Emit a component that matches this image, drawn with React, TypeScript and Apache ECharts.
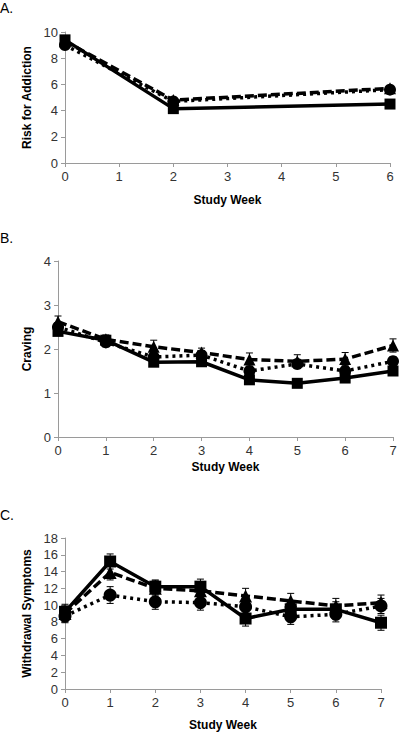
import React, { useEffect, useRef } from "react";
import * as echarts from "echarts";

// Panel A: Risk for Addiction
const weeksA = [0, 2, 6];
const riskSolid = [9.4, 4.15, 4.5];
const riskDashed = [9.3, 4.8, 5.7];
const riskDotted = [9.0, 4.7, 5.6];
const riskErr = [0.15, 0.15, 0.15];

// Panel B: Craving
const weeksB = [0, 1, 2, 3, 4, 5, 6, 7];
const cravingSolid = [2.4, 2.2, 1.7, 1.71, 1.3, 1.22, 1.34, 1.5];
const cravingDashed = [2.62, 2.22, 2.05, 1.92, 1.76, 1.72, 1.77, 2.08];
const cravingDotted = [2.5, 2.15, 1.82, 1.86, 1.5, 1.66, 1.5, 1.72];
const cravingSolidErr = [0.08, 0.08, 0.08, 0.08, 0.08, 0.07, 0.08, 0.1];
const cravingDashedErr = [0.13, 0.1, 0.15, 0.1, 0.15, 0.15, 0.15, 0.15];
const cravingDottedErr = [0.1, 0.1, 0.1, 0.1, 0.1, 0.1, 0.1, 0.1];

// Panel C: Withdrawal Symptoms
const weeksC = [0, 1, 2, 3, 4, 5, 6, 7];
const withdrawalSolid = [9.2, 15.2, 12.2, 12.2, 8.4, 9.5, 9.5, 7.9];
const withdrawalDashed = [9.0, 13.9, 12.0, 11.7, 11.1, 10.5, 9.9, 10.3];
const withdrawalDotted = [8.7, 11.2, 10.4, 10.3, 9.8, 8.6, 8.9, 9.9];
const withdrawalSolidErr = [0.9, 0.9, 0.8, 0.9, 0.9, 0.9, 0.9, 0.9];
const withdrawalDashedErr = [0.9, 0.9, 0.9, 0.9, 0.9, 0.9, 0.9, 0.9];
const withdrawalDottedErr = [0.8, 1.0, 0.9, 0.9, 0.9, 0.9, 0.9, 0.9];

const panelLabels = ["A.", "B.", "C."];
const yTitles = ["Risk for Addiction", "Craving", "Withdrawal Symptoms"];
const xTitle = "Study Week";

const FONT = "Liberation Sans";
const AXIS_COLOR = "#9a9a9a";
const TEXT_COLOR = "#333";

function pairs(xs: number[], ys: number[]) {
  return xs.map((x, i) => [x, ys[i]]);
}
function errData(xs: number[], ys: number[], es: number[]) {
  return xs.map((x, i) => [x, ys[i] - es[i], ys[i] + es[i]]);
}

const errRender = (params: any, api: any) => {
  const x = api.value(0);
  const lo = api.coord([x, api.value(1)]);
  const hi = api.coord([x, api.value(2)]);
  const cap = 3.5;
  const style = { stroke: "#000", lineWidth: 1 };
  return {
    type: "group",
    children: [
      { type: "line", shape: { x1: lo[0], y1: lo[1], x2: hi[0], y2: hi[1] }, style },
      { type: "line", shape: { x1: lo[0] - cap, y1: lo[1], x2: lo[0] + cap, y2: lo[1] }, style },
      { type: "line", shape: { x1: hi[0] - cap, y1: hi[1], x2: hi[0] + cap, y2: hi[1] }, style },
    ],
  };
};

export default function App() {
  const ref = useRef<HTMLDivElement>(null);
  useEffect(() => {
    if (!ref.current) return;
    const chart = echarts.init(ref.current, null, { renderer: "svg" });

    const grids = [
      { left: 65, top: 32, width: 325, height: 131 },
      { left: 58, top: 261, width: 335, height: 176 },
      { left: 65, top: 538, width: 316, height: 151 },
    ];
    const xMax = [6, 7, 7];
    const yMax = [10, 4, 18];
    const yInt = [2, 1, 2];
    const yGap = [30, 24, 31];
    const xGap = [31, 24, 30];

    const axisCommon = {
      axisLine: { show: true, lineStyle: { color: AXIS_COLOR, width: 1 } },
      axisTick: { show: true, length: 4, lineStyle: { color: AXIS_COLOR } },
      splitLine: { show: false },
      axisLabel: { color: TEXT_COLOR, fontFamily: FONT, fontSize: 13, margin: 7 },
      nameTextStyle: { color: "#000", fontFamily: FONT, fontSize: 12, fontWeight: "bold" },
    };

    const xAxis = grids.map((_, i) => ({
      type: "value",
      gridIndex: i,
      min: 0,
      max: xMax[i],
      interval: 1,
      name: xTitle,
      nameLocation: "middle",
      nameGap: xGap[i],
      ...axisCommon,
    }));
    const yAxis = grids.map((_, i) => ({
      type: "value",
      gridIndex: i,
      min: 0,
      max: yMax[i],
      interval: yInt[i],
      name: yTitles[i],
      nameLocation: "middle",
      nameGap: yGap[i],
      ...axisCommon,
    }));

    const lineSeries = (idx: number, data: number[][], kind: "solid" | "dashed" | "dotted", size: number) => ({
      type: "line",
      xAxisIndex: idx,
      yAxisIndex: idx,
      data,
      symbol: kind === "solid" ? "rect" : kind === "dashed" ? "triangle" : "circle",
      symbolSize: kind === "solid" ? size : size + 1,
      showAllSymbol: true,
      itemStyle: { color: "#000" },
      lineStyle: {
        color: "#000",
        width: 3.5,
        type: kind === "solid" ? "solid" : kind === "dashed" ? [9, 4] : [3, 4],
      },
      z: kind === "solid" ? 4 : kind === "dashed" ? 3 : 2,
    });
    const errSeries = (idx: number, data: number[][]) => ({
      type: "custom",
      xAxisIndex: idx,
      yAxisIndex: idx,
      data,
      renderItem: errRender,
      encode: { x: 0, y: [1, 2] },
      z: 1,
    });

    const series: any[] = [
      errSeries(0, errData(weeksA, riskDotted, riskErr)),
      errSeries(0, errData(weeksA, riskDashed, riskErr)),
      errSeries(0, errData(weeksA, riskSolid, riskErr)),
      lineSeries(0, pairs(weeksA, riskDotted), "dotted", 11),
      lineSeries(0, pairs(weeksA, riskDashed), "dashed", 11),
      lineSeries(0, pairs(weeksA, riskSolid), "solid", 11),

      errSeries(1, errData(weeksB, cravingDotted, cravingDottedErr)),
      errSeries(1, errData(weeksB, cravingDashed, cravingDashedErr)),
      errSeries(1, errData(weeksB, cravingSolid, cravingSolidErr)),
      lineSeries(1, pairs(weeksB, cravingDotted), "dotted", 11),
      lineSeries(1, pairs(weeksB, cravingDashed), "dashed", 11),
      lineSeries(1, pairs(weeksB, cravingSolid), "solid", 11),

      errSeries(2, errData(weeksC, withdrawalDotted, withdrawalDottedErr)),
      errSeries(2, errData(weeksC, withdrawalDashed, withdrawalDashedErr)),
      errSeries(2, errData(weeksC, withdrawalSolid, withdrawalSolidErr)),
      lineSeries(2, pairs(weeksC, withdrawalDotted), "dotted", 12),
      lineSeries(2, pairs(weeksC, withdrawalDashed), "dashed", 12),
      lineSeries(2, pairs(weeksC, withdrawalSolid), "solid", 12),
    ];

    const labelTops = [1, 231, 508];
    chart.setOption({
      animation: false,
      backgroundColor: "#fff",
      grid: grids,
      xAxis,
      yAxis,
      series,
      graphic: panelLabels.map((t, i) => ({
        type: "text",
        left: 0,
        top: labelTops[i],
        style: { text: t, fontFamily: FONT, fontSize: 14, fill: "#000" },
      })),
    });
    return () => chart.dispose();
  }, []);
  return (
    <div
      ref={ref}
      style={{ position: "fixed", left: 0, top: 0, width: 400, height: 734, background: "#fff" }}
    />
  );
}
